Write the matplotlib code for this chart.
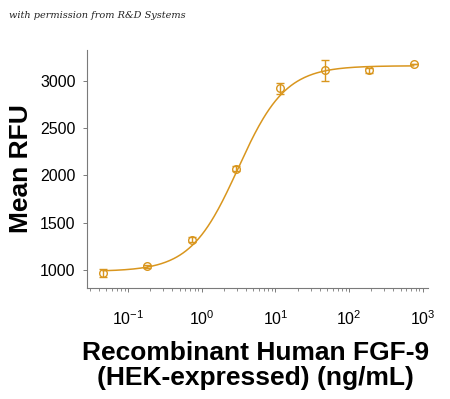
import numpy as np
import matplotlib
matplotlib.use("Agg")
import matplotlib.pyplot as plt
from matplotlib import font_manager as fm
from matplotlib.ticker import LogLocator, NullFormatter

# data (4-fold dilution series)
conc = [0.0458, 0.183, 0.732, 2.93, 11.7, 46.9, 187.5, 750.0]
rfu = [970, 1040, 1322, 2072, 2920, 3112, 3110, 3182]
err = [45, 15, 25, 25, 60, 110, 30, 0]

# 4PL fit parameters
bottom, top, ec50, hill = 985, 3160, 3.1, 1.35

color = "#D9961E"
grey = "#7a7a7a"

plt.rcParams["font.family"] = ["Liberation Sans", "DejaVu Sans"]
plt.rcParams["mathtext.fontset"] = "custom"
plt.rcParams["mathtext.rm"] = "Liberation Sans"
plt.rcParams["mathtext.it"] = "Liberation Sans:italic"
plt.rcParams["mathtext.bf"] = "Liberation Sans:bold"


def find_font(name, weight):
    for f in fm.fontManager.ttflist:
        if f.name == name and f.weight == weight:
            return fm.FontProperties(fname=f.fname)
    return fm.FontProperties(family="DejaVu Sans", weight=weight)


bold = find_font("Liberation Sans", 700)

fig = plt.figure(figsize=(4.5, 3.99), dpi=100)
ax = fig.add_axes([0.193, 0.278, 0.758, 0.597])

xs = np.logspace(np.log10(conc[0]), np.log10(conc[-1]), 300)
ys = bottom + (top - bottom) / (1 + (ec50 / xs) ** hill)
ax.plot(xs, ys, color=color, lw=1.1)
ax.errorbar(conc, rfu, yerr=err, fmt="o", mfc="none", mec=color, ms=5.5,
            mew=1.0, ecolor=color, elinewidth=1.0, capsize=3, capthick=1.0)

ax.set_xscale("log")
ax.set_xlim(10 ** -1.56, 10 ** 3.07)
ax.set_ylim(809, 3328)
ax.set_yticks([1000, 1500, 2000, 2500, 3000])
ax.xaxis.set_major_locator(LogLocator(base=10, numticks=10))
ax.xaxis.set_minor_locator(LogLocator(base=10, subs=np.arange(2, 10), numticks=20))
ax.xaxis.set_minor_formatter(NullFormatter())

for s in ["top", "right"]:
    ax.spines[s].set_visible(False)
for s in ["left", "bottom"]:
    ax.spines[s].set_color(grey)
    ax.spines[s].set_linewidth(0.8)

ax.tick_params(axis="both", which="major", length=3, width=0.7, color=grey,
               labelsize=11.5, pad=12)
ax.tick_params(axis="y", pad=5)
ax.tick_params(axis="x", which="minor", length=2, width=0.6, color=grey)

ax.set_ylabel("Mean RFU", fontproperties=bold, fontsize=19)
ax.yaxis.set_label_coords(-0.158, 0.5)
fig.text(0.567, 0.085, "Recombinant Human FGF-9\n(HEK-expressed) (ng/mL)",
         ha="center", va="center", fontproperties=bold, fontsize=19,
         linespacing=1.05)

fig.text(0.02, 0.96, "with permission from R&D Systems", fontsize=7,
         style="italic", family="DejaVu Serif", color="#222222", va="center")

fig.savefig("out.png", dpi=100)
